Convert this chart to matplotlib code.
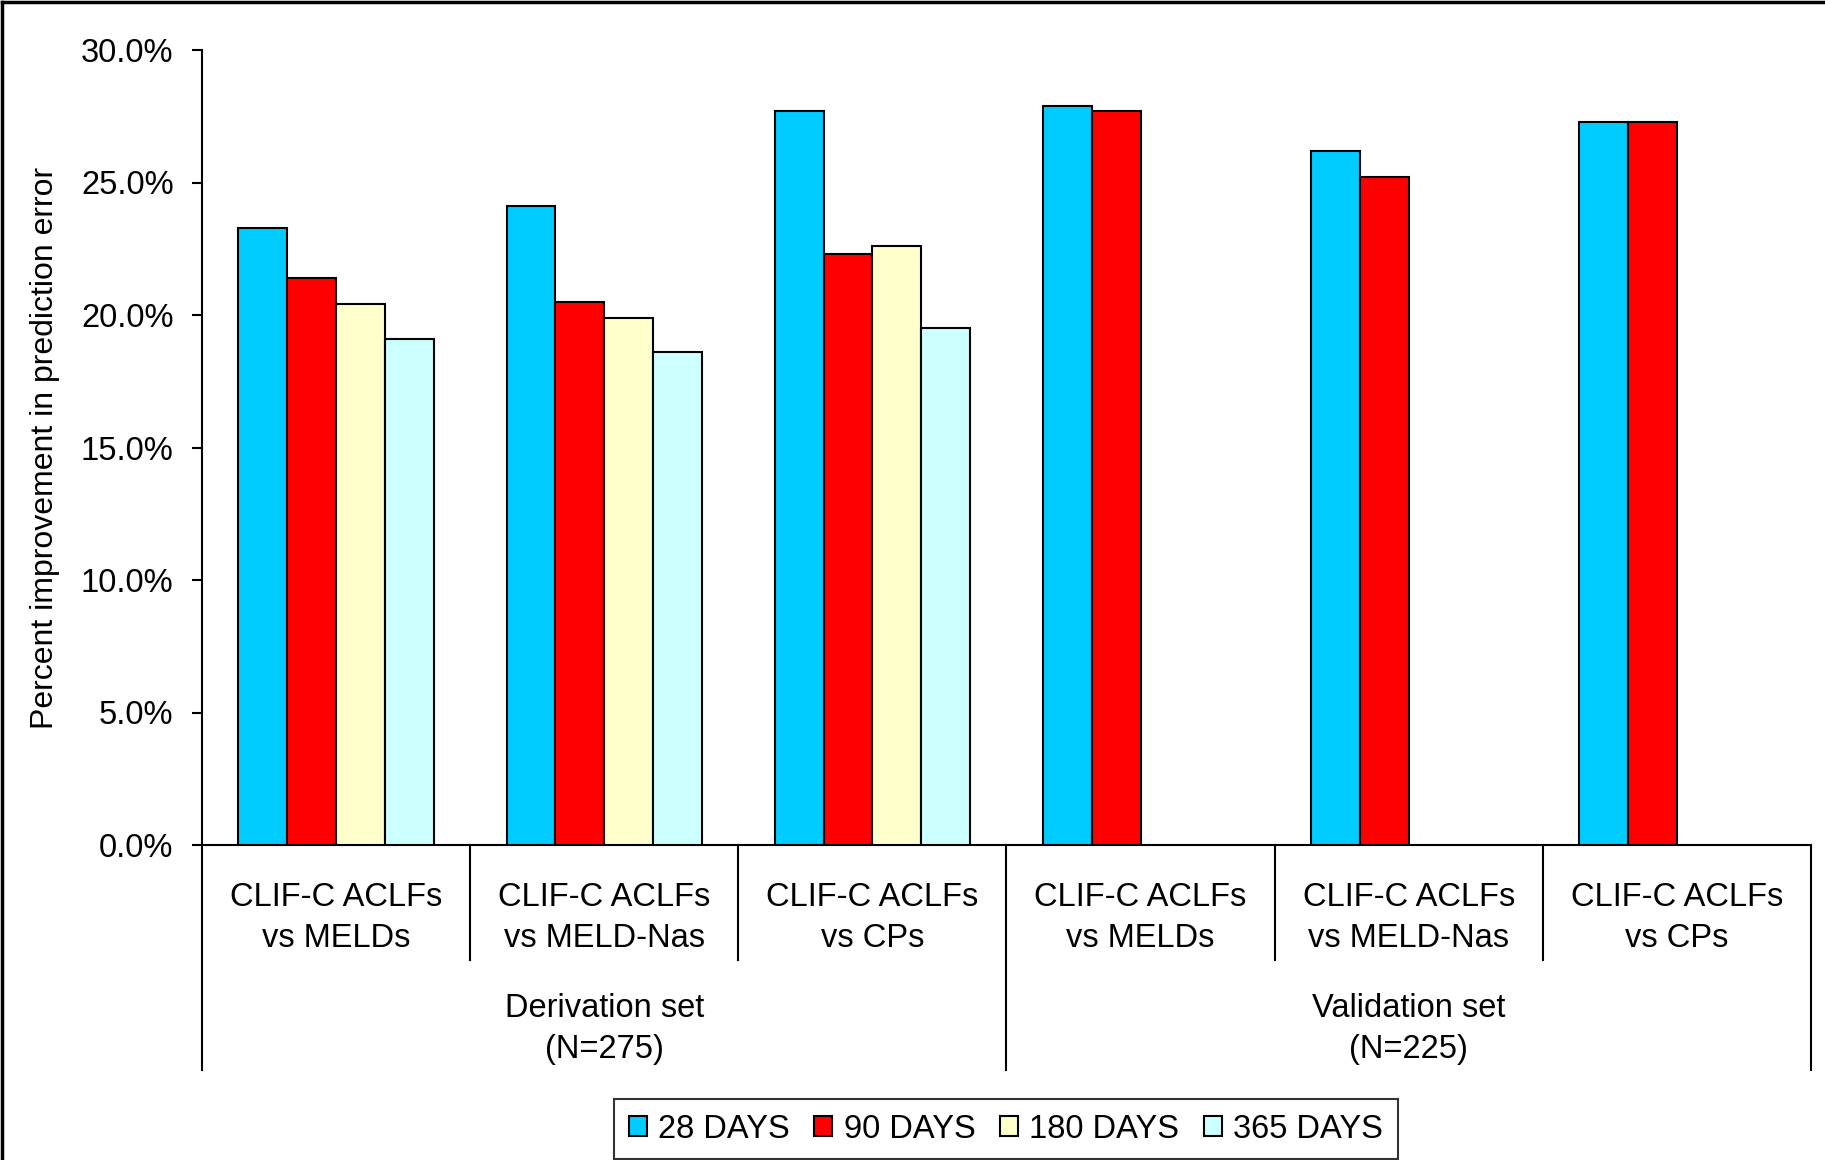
import numpy as np
import matplotlib
matplotlib.use("Agg")
import matplotlib.pyplot as plt
from matplotlib.lines import Line2D

plt.rcParams['font.family'] = ['Liberation Sans', 'DejaVu Sans']

# percent improvement in prediction error, CLIF-C ACLFs vs other scores
categories = ['CLIF-C ACLFs\nvs MELDs', 'CLIF-C ACLFs\nvs MELD-Nas', 'CLIF-C ACLFs\nvs CPs',
              'CLIF-C ACLFs\nvs MELDs', 'CLIF-C ACLFs\nvs MELD-Nas', 'CLIF-C ACLFs\nvs CPs']
groups = ['Derivation set\n(N=275)', 'Validation set\n(N=225)']
series = ['28 DAYS', '90 DAYS', '180 DAYS', '365 DAYS']
days28 = [23.3, 24.1, 27.7, 27.9, 26.2, 27.3]
days90 = [21.4, 20.5, 22.3, 27.7, 25.2, 27.3]
days180 = [20.4, 19.9, 22.6, np.nan, np.nan, np.nan]
days365 = [19.1, 18.6, 19.5, np.nan, np.nan, np.nan]
colors = ['#00CCFF', '#FF0000', '#FFFFCC', '#CCFFFF']
yticks = [0, 5, 10, 15, 20, 25, 30]

W, H = 1825, 1160
fig = plt.figure(figsize=(W / 100, H / 100), dpi=100)
ax = fig.add_axes([202 / W, 1 - 845 / H, (1811 - 202) / W, (845 - 50) / H])

x = np.arange(len(categories))
bw = 0.182
for k, (vals, c, name) in enumerate(zip([days28, days90, days180, days365], colors, series)):
    ax.bar(x + (k - 1.5) * bw, vals, bw, color=c, edgecolor='black', linewidth=1.5,
           label=name, zorder=3)

ax.set_xlim(-0.5, len(categories) - 0.5)
ax.set_ylim(0, 30)
ax.set_yticks(yticks)
ax.set_yticklabels(['%.1f%%' % v for v in yticks], fontsize=23.5)
ax.tick_params(axis='y', direction='out', length=7.5, width=1.5, pad=13)
ax.set_xticks([])
for s in ['top', 'right']:
    ax.spines[s].set_visible(False)
ax.spines['left'].set_linewidth(1.5)
ax.spines['bottom'].set_linewidth(1.5)

# category dividers below the axis
trans = ax.get_xaxis_transform()
short_y = -(960 - 845) / (845 - 50)
long_y = -(1070 - 845) / (845 - 50)
for i in range(len(categories) + 1):
    xe = i - 0.5
    yb = long_y if i % 3 == 0 else short_y
    ax.plot([xe, xe], [0, yb], color='black', lw=1.5, transform=trans, clip_on=False)

for i, lab in enumerate(categories):
    ax.text(i, -(918 - 845) / 795, lab, transform=trans, ha='center', va='center',
            fontsize=23.5, linespacing=1.42)
for g, lab in enumerate(groups):
    ax.text(3 * g + 1, -(1029 - 845) / 795, lab, transform=trans, ha='center', va='center',
            fontsize=23.5, linespacing=1.42)

fig.text(45 / W, 1 - 448 / H, 'Percent improvement in prediction error', rotation=90,
         ha='center', va='center', fontsize=23)

leg = fig.legend(loc='center', bbox_to_anchor=(1006 / W, 1 - 1129 / H), ncol=4,
                 fontsize=23.5, frameon=True, fancybox=False, handlelength=0.55,
                 handleheight=0.6, handletextpad=0.35, columnspacing=0.75,
                 borderpad=0.45, borderaxespad=0)
leg.get_frame().set_edgecolor('black')
leg.get_frame().set_linewidth(1.5)

# outer frame on the left and top edges
fig.add_artist(Line2D([2 / W, 2 / W], [0, 1 - 2 / H], color='black', lw=2.5))
fig.add_artist(Line2D([2 / W, 1], [1 - 2 / H, 1 - 2 / H], color='black', lw=2.5))

fig.savefig('out.png', dpi=100)
